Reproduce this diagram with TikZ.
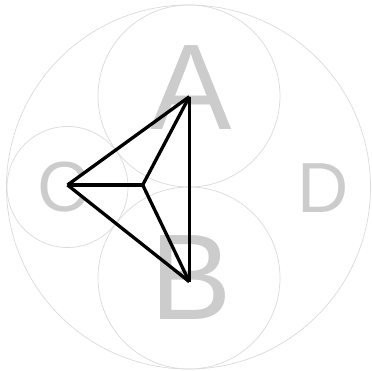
\documentclass[tikz,border=0pt]{standalone}
\usepackage{fontspec}
\setmainfont{Liberation Sans}
\definecolor{ringgray}{RGB}{218,218,218}
\definecolor{lettergray}{RGB}{204,204,204}
\tikzset{
  ring/.style={draw=ringgray, line width=0.7pt},
  bigletter/.style={text=lettergray, inner sep=0pt, anchor=base, font=\fontsize{122}{122}\selectfont},
  smallletter/.style={text=lettergray, inner sep=0pt, anchor=base, font=\fontsize{71}{71}\selectfont},
  edge/.style={draw=black, line width=3.3pt}
}
\begin{document}
\begin{tikzpicture}[x=1pt,y=1pt]
\useasboundingbox (0,0) rectangle (372,371);
% circles
\draw[ring] (188.5,184) circle (182);
\draw[ring] (189,275) circle (91);
\draw[ring] (189,93) circle (91);
\draw[ring] (67.5,184) circle (60.5);
% letters
\node[bigletter] (la) at (191,241) {A};
\node[bigletter] (lb) at (191,51) {B};
\node[smallletter] (lc) at (63,159) {C};
\node[smallletter] (ld) at (323,158) {D};
% vertices
\coordinate (A) at (189.3,274.3);
\coordinate (B) at (189.3,89.3);
\coordinate (C) at (67.5,186);
\coordinate (O) at (142.7,186);
% edges
\draw[edge] (A) -- (B);
\draw[edge] (A) -- (C);
\draw[edge] (B) -- (C);
\draw[edge] (O) -- (A);
\draw[edge] (O) -- (B);
\draw[edge] (O) -- (C);
\end{tikzpicture}
\end{document}
